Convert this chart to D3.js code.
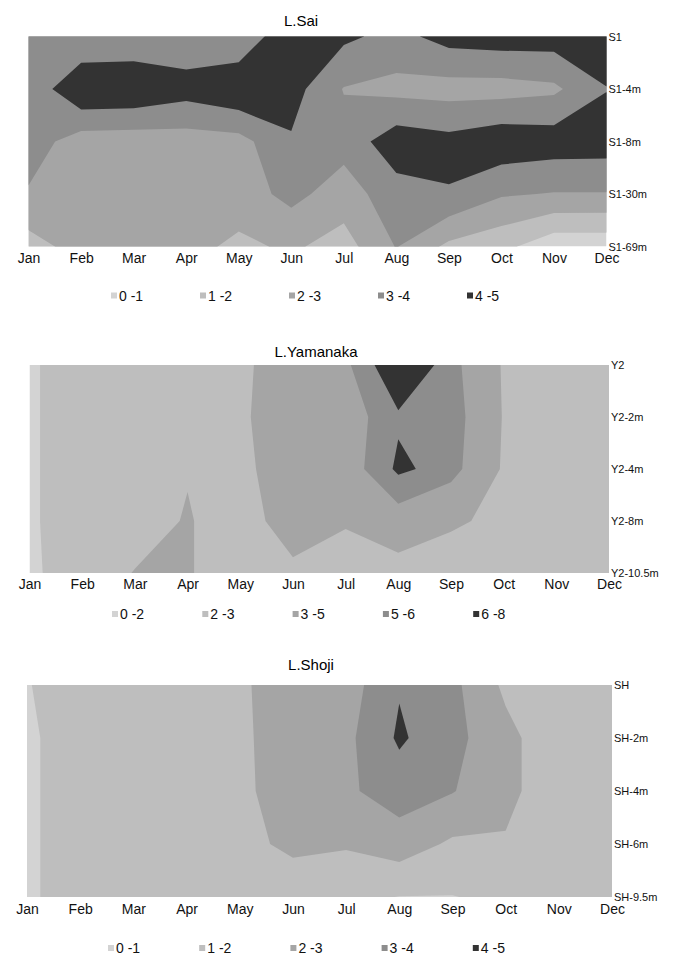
<!DOCTYPE html>
<html>
<head>
<meta charset="utf-8">
<script src="https://cdn.jsdelivr.net/npm/d3@7"></script>
<style>
  body { margin: 0; background: #fff; }
  svg { display: block; }
</style>
</head>
<body>
<svg id="chart" width="678" height="955"></svg>
<script>
// ---- data ----
const months = ["Jan", "Feb", "Mar", "Apr", "May", "Jun", "Jul", "Aug", "Sep", "Oct", "Nov", "Dec"];

// L.Sai : rows = depths (top to bottom), columns = months
const saiDepths = ["S1", "S1-4m", "S1-8m", "S1-30m", "S1-69m"];
const saiValues = [
  [3.5, 3.05, 3.2, 3.25, 3.13, 4.9, 4.2, 3.68, 4.39, 4.52, 4.49, 4.6],
  [3.22, 4.95, 4.9, 4.44, 4.91, 4.4, 2.95, 2.7, 2.6, 2.6, 2.8, 3.97],
  [3.5, 2.51, 2.45, 2.52, 2.64, 3.9, 3.4, 4.58, 4.31, 4.7, 4.54, 4.5],
  [2.9, 2.5, 2.5, 2.5, 2.5, 3.3, 2.5, 3.61, 3.93, 3.1, 2.95, 2.95],
  [1.6, 2.4, 2.3, 2.3, 1.8, 2.15, 1.6, 3.05, 1.77, 1.3, 0.31, 0.3]
];
const saiBands = [0, 1, 2, 3, 4, 5];

// L.Yamanaka
const yamaDepths = ["Y2", "Y2-2m", "Y2-4m", "Y2-8m", "Y2-10.5m"];
const yamaValues = [
  [1.9, 2.4, 2.5, 2.6, 2.65, 4.0, 4.78, 7.0, 5.54, 2.84, 2.6, 2.5],
  [1.9, 2.4, 2.5, 2.6, 2.8, 3.8, 4.36, 5.85, 5.8, 2.9, 2.6, 2.5],
  [1.9, 2.4, 2.5, 2.92, 2.7, 3.7, 4.35, 6.2, 5.6, 2.8, 2.6, 2.5],
  [1.9, 2.4, 2.43, 3.1, 2.3, 3.76, 3.1, 4.4, 3.25, 2.6, 2.6, 2.5],
  [1.9, 2.3, 3.05, 3.1, 2.3, 2.67, 2.45, 2.1, 2.05, 2.5, 2.6, 2.5]
];
const yamaBands = [0, 2, 3, 5, 6, 8];

// L.Shoji
const shojiDepths = ["SH", "SH-2m", "SH-4m", "SH-6m", "SH-9.5m"];
const shojiValues = [
  [0.97, 1.3, 1.4, 1.45, 1.83, 2.6, 2.53, 3.92, 3.25, 1.8, 1.3, 1.3],
  [0.9, 1.3, 1.4, 1.45, 1.75, 2.7, 2.75, 4.15, 3.3, 2.3, 1.3, 1.3],
  [0.9, 1.3, 1.4, 1.45, 1.7, 2.7, 2.84, 3.47, 3.05, 2.3, 1.3, 1.3],
  [0.9, 1.3, 1.4, 1.45, 1.6, 2.3, 2.1, 2.53, 1.84, 1.9, 1.3, 1.3],
  [0.9, 1.3, 1.4, 1.45, 1.4, 1.15, 1.2, 0.98, 0.97, 1.2, 1.3, 1.3]
];
const shojiBands = [0, 1, 2, 3, 4, 5];

const bandColors = ["#d3d3d3", "#bebebe", "#a5a5a5", "#8d8d8d", "#333333"];

// ---- layout ----
const panels = [
  { title: "L.Sai", depths: saiDepths, values: saiValues, bands: saiBands,
    left: 28.6, right: 606.5, top: 36.5, bottom: 246.5,
    titleX: 301, titleY: 26, monthY: 263, legendX: 111, legendStep: 89, legendY: 300.5 },
  { title: "L.Yamanaka", depths: yamaDepths, values: yamaValues, bands: yamaBands,
    left: 29.5, right: 609, top: 365, bottom: 573,
    titleX: 316, titleY: 357, monthY: 588.5, legendX: 112, legendStep: 90.3, legendY: 619 },
  { title: "L.Shoji", depths: shojiDepths, values: shojiValues, bands: shojiBands,
    left: 27, right: 612, top: 685, bottom: 897,
    titleX: 311, titleY: 670, monthY: 914, legendX: 108, legendStep: 91.2, legendY: 953 }
];

const svg = d3.select("#chart")
  .style("font-family", "'Liberation Sans', Arial, sans-serif");

panels.forEach((p, k) => drawPanel(p, k));

function drawPanel(p, k) {
  const nx = months.length, ny = p.depths.length;
  const x = d3.scaleLinear().domain([0, nx - 1]).range([p.left, p.right]);
  const y = d3.scaleLinear().domain([0, ny - 1]).range([p.top, p.bottom]);

  const clipId = "clip" + k;
  svg.append("clipPath").attr("id", clipId)
    .append("rect")
    .attr("x", p.left).attr("y", p.top)
    .attr("width", p.right - p.left).attr("height", p.bottom - p.top);

  const plot = svg.append("g").attr("clip-path", `url(#${clipId})`);

  // lowest band as background
  plot.append("rect")
    .attr("x", p.left).attr("y", p.top)
    .attr("width", p.right - p.left).attr("height", p.bottom - p.top)
    .attr("fill", bandColors[0]);

  // d3.contours puts grid values at cell centres (i + 0.5)
  const contours = d3.contours()
    .size([nx, ny])
    .thresholds(p.bands.slice(1, -1))(p.values.flat());

  const path = d3.geoPath(d3.geoTransform({
    point(px, py) { this.stream.point(x(px - 0.5), y(py - 0.5)); }
  }));

  plot.selectAll("path")
    .data(contours)
    .join("path")
    .attr("d", path)
    .attr("fill", (d, i) => bandColors[i + 1]);

  // title
  svg.append("text")
    .attr("x", p.titleX).attr("y", p.titleY)
    .attr("text-anchor", "middle")
    .attr("font-size", 15)
    .attr("fill", "#000")
    .text(p.title);

  // month axis
  const xAxis = svg.append("g")
    .attr("transform", `translate(0,${p.monthY})`)
    .call(d3.axisBottom(x).tickValues(d3.range(nx)).tickFormat(i => months[i]).tickSize(0));
  xAxis.select(".domain").remove();
  xAxis.attr("font-family", null).attr("font-size", 14);
  xAxis.selectAll("text").attr("y", 0).attr("dy", null).attr("fill", "#111");

  // depth axis on the right
  const yAxis = svg.append("g")
    .attr("transform", `translate(${p.right},0)`)
    .call(d3.axisRight(y).tickValues(d3.range(ny)).tickFormat(i => p.depths[i]).tickSize(0).tickPadding(2));
  yAxis.select(".domain").remove();
  yAxis.attr("font-family", null).attr("font-size", 11);
  yAxis.selectAll("text").attr("fill", "#111");

  // legend
  const legend = svg.append("g");
  const items = d3.range(p.bands.length - 1);
  const li = legend.selectAll("g")
    .data(items)
    .join("g")
    .attr("transform", i => `translate(${p.legendX + i * p.legendStep},${p.legendY})`);
  li.append("rect")
    .attr("x", 0).attr("y", -8)
    .attr("width", 6).attr("height", 6)
    .attr("fill", i => bandColors[i]);
  li.append("text")
    .attr("x", 8).attr("y", 0)
    .attr("font-size", 14)
    .attr("fill", "#111")
    .text(i => `${p.bands[i]} -${p.bands[i + 1]}`);
}
</script>
</body>
</html>
